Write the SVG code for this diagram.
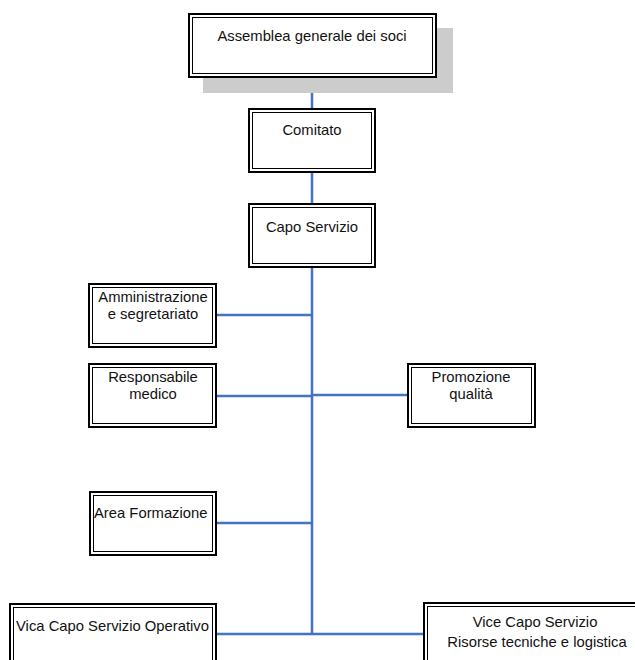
<svg xmlns="http://www.w3.org/2000/svg" width="635" height="660" viewBox="0 0 635 660">
<style>
.o{fill:#fff;stroke:#000;stroke-width:2}
.i{fill:none;stroke:#000;stroke-width:1}
.t{font-family:"Liberation Sans",Arial,sans-serif;font-size:14.8px;fill:#111}
.c{fill:none;stroke:#4472C4;stroke-width:2.5}
</style>
<g id="connectors">
<path class="c" d="M312 78V108M312 173V203M312 268V635"/>
<path class="c" d="M217 315H312M217 396H312M312 395H407M217 523H312M217 634H312M312 634H423"/>
</g>
<g id="assemblea">
<rect x="203" y="28" width="250" height="65" fill="#cccccc"/>
<rect class="o" x="189" y="14" width="247" height="63"/>
<rect class="i" x="192.5" y="17.5" width="240" height="56"/>
<text class="t" x="312" y="41" text-anchor="middle">Assemblea generale dei soci</text>
</g>
<g id="comitato">
<rect class="o" x="249" y="109" width="126" height="63"/>
<rect class="i" x="252.5" y="112.5" width="119" height="56"/>
<text class="t" x="312" y="135" text-anchor="middle">Comitato</text>
</g>
<g id="capo">
<rect class="o" x="249" y="204" width="126" height="63"/>
<rect class="i" x="252.5" y="207.5" width="119" height="56"/>
<text class="t" x="312" y="232" text-anchor="middle">Capo Servizio</text>
</g>
<g id="amministrazione">
<rect class="o" x="89" y="284" width="127" height="63"/>
<rect class="i" x="92.5" y="287.5" width="120" height="56"/>
<text class="t" x="153" y="302" text-anchor="middle">Amministrazione</text>
<text class="t" x="153" y="319" text-anchor="middle">e segretariato</text>
</g>
<g id="responsabile">
<rect class="o" x="89" y="364" width="127" height="63"/>
<rect class="i" x="92.5" y="367.5" width="120" height="56"/>
<text class="t" x="153" y="382" text-anchor="middle">Responsabile</text>
<text class="t" x="153" y="399" text-anchor="middle">medico</text>
</g>
<g id="promozione">
<rect class="o" x="408" y="364" width="127" height="63"/>
<rect class="i" x="411.5" y="367.5" width="120" height="56"/>
<text class="t" x="471" y="382" text-anchor="middle">Promozione</text>
<text class="t" x="471" y="399" text-anchor="middle">qualità</text>
</g>
<g id="formazione">
<rect class="o" x="90" y="492" width="126" height="63"/>
<rect class="i" x="93.5" y="495.5" width="119" height="56"/>
<text class="t" x="94" y="518">Area Formazione</text>
</g>
<g id="vica">
<rect class="o" x="10" y="604" width="206" height="70"/>
<rect class="i" x="13.5" y="607.5" width="199" height="63"/>
<text class="t" x="16" y="631">Vica Capo Servizio Operativo</text>
</g>
<g id="vice">
<rect class="o" x="424" y="603" width="220" height="70"/>
<rect class="i" x="427.5" y="606.5" width="213" height="63"/>
<text class="t" x="535" y="627" text-anchor="middle">Vice Capo Servizio</text>
<text class="t" x="537" y="647" text-anchor="middle">Risorse tecniche e logistica</text>
</g>
</svg>
